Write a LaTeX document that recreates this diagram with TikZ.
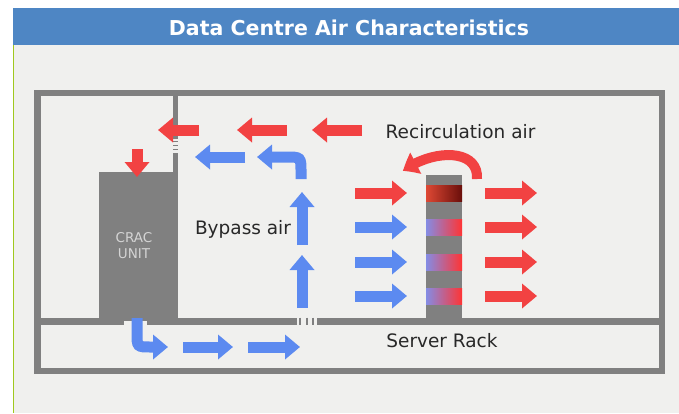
\documentclass[tikz,border=0pt]{standalone}
\usepackage{fontspec}
\setmainfont{DejaVu Sans}
\usetikzlibrary{arrows.meta,bending}
\definecolor{bgc}{RGB}{240,240,238}
\definecolor{titlebar}{RGB}{78,134,196}
\definecolor{greenl}{RGB}{160,200,30}
\definecolor{wallgray}{RGB}{128,128,128}
\definecolor{arrred}{RGB}{242,66,66}
\definecolor{arrblue}{RGB}{92,138,240}
\definecolor{txt}{RGB}{40,40,40}
\definecolor{cractxt}{RGB}{212,212,212}
\definecolor{hotL}{RGB}{222,72,52}
\definecolor{hotR}{RGB}{105,14,10}
\definecolor{mixL}{RGB}{132,140,228}
\definecolor{mixM}{RGB}{228,92,130}
\definecolor{mixR}{RGB}{255,52,52}
\begin{document}
\begin{tikzpicture}[x=1pt,y=-1pt,
  fat/.style={line width=11pt,-{Triangle[length=15pt,width=24pt]}},
  redarr/.style={fat,draw=arrred},
  bluearr/.style={fat,draw=arrblue},
  wallline/.style={draw=wallgray,line width=6.5pt},
  lbl/.style={font=\fontsize{18.5}{18.5}\selectfont,text=txt,anchor=base,inner sep=0pt},
  cracl/.style={font=\fontsize{13.5}{13.5}\selectfont,text=cractxt,anchor=base,inner sep=0pt}]
\useasboundingbox (0,0) rectangle (679,413);
\fill[white] (0,0) rectangle (679,413);
\fill[bgc] (13,45) rectangle (679,413);
\fill[titlebar] (13,7.5) rectangle (679,45);
\draw[greenl,line width=1pt] (13.5,45) -- (13.5,413);
\node[anchor=base,text=white,inner sep=0pt,font=\bfseries\fontsize{20.5}{20.5}\selectfont] (title) at (349,35) {Data Centre Air Characteristics};
% room walls
\draw[wallline] (37.5,93) rectangle (662,371);
\draw[wallline,line width=7pt] (37.5,321) -- (124,321) (147,321) -- (297,321) (317,321) -- (662,321);
\foreach \xx in {300,306.5,313} \draw[wallgray,line width=2pt] (\xx,317.5) -- (\xx,324.5);
% partition
\draw[wallgray,line width=5pt] (175.5,93) -- (175.5,139) (175.5,153) -- (175.5,173);
\foreach \yy in {141.5,145.5,149.5} \draw[wallgray,line width=1.4pt] (173,\yy) -- (178,\yy);
% CRAC unit
\node[fill=wallgray,minimum width=79pt,minimum height=149pt,anchor=north west,inner sep=0pt] (crac) at (99,172) {};
\node[cracl] (craca) at (134,242) {CRAC};
\node[cracl] (cracb) at (134,258) {UNIT};
% server rack
\node[fill=wallgray,minimum width=36pt,minimum height=146pt,anchor=north west,inner sep=0pt] (rack) at (426,175) {};
\shade[left color=hotL,right color=hotR] (426,185) rectangle (462,201);
\foreach \yy in {227,262,296}
  \shade[left color=mixL,middle color=mixM,right color=mixR] (426,\yy-8) rectangle (462,\yy+8);
% top red arrows
\draw[redarr] (199,130) -- (158,130);
\draw[redarr] (287,130) -- (237,130);
\draw[redarr] (362,130) -- (312,130);
\draw[redarr] (137,149) -- (137,177);
% bypass blue arrows
\draw[bluearr] (245,157) -- (195,157);
\draw[bluearr] (301,179) -- (301,172) .. controls (301,157) .. (286,157) -- (257,157);
\draw[bluearr] (302,245) -- (302,192);
\draw[bluearr] (302,308) -- (302,255);
% underfloor
\draw[bluearr] (137,318) -- (137,333) .. controls (137,347) .. (151,347) -- (168,347);
\draw[bluearr] (183,347) -- (233,347);
\draw[bluearr] (248,347) -- (300,347);
% rack arrows
\draw[redarr] (355,193) -- (407,193);
\foreach \yy in {227,262,296} \draw[bluearr] (355,\yy) -- (407,\yy);
\foreach \yy in {193,227,262,296} \draw[redarr] (485,\yy) -- (537,\yy);
% recirculation over rack
\draw[draw=arrred,line width=10pt,-{Triangle[bend,length=15pt,width=23pt]}] (477,179) .. controls (479,148) and (432,149) .. (403,171);
% labels
\node[lbl] (recirc) at (460.5,138) {Recirculation air};
\node[lbl] (bypass) at (243,234) {Bypass air};
\node[lbl] (srack) at (442,347) {Server Rack};
\end{tikzpicture}
\end{document}
